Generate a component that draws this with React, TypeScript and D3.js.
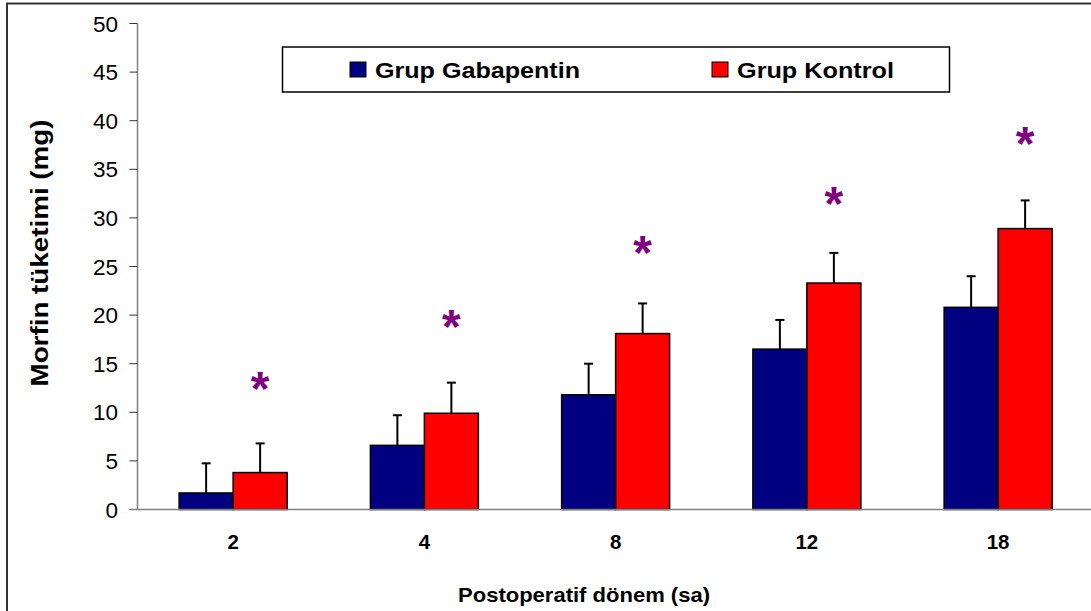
import React from "react";
import * as d3 from "d3";

// Postoperative morphine consumption by period
const periods = ["2", "4", "8", "12", "18"];
const seriesNames = ["Grup Gabapentin", "Grup Kontrol"];
const gabapentinMean = [1.7, 6.6, 11.8, 16.5, 20.8];
const gabapentinSd = [3.05, 3.1, 3.2, 3.0, 3.2];
const kontrolMean = [3.8, 9.9, 18.1, 23.3, 28.9];
const kontrolSd = [3.0, 3.15, 3.1, 3.1, 2.9];
const significance = [13.1, 19.5, 27.1, 32.2, 38.3];
const yTicks = [0, 5, 10, 15, 20, 25, 30, 35, 40, 45, 50];

const W = 1091;
const H = 611;
const FONT = "'Liberation Sans', Arial, sans-serif";
const colors = ["#000080", "#FF0000"];

export default function App() {
  const x0 = 137.5;
  const x1 = x0 + 5 * 191.25;
  const yTop = 23.5;
  const yBottom = 509.5;

  const x = d3.scaleBand().domain(periods).range([x0, x1]).paddingInner(0).paddingOuter(0);
  const inner = d3.scaleBand().domain(seriesNames).range([0, 108]);
  const y = d3.scaleLinear().domain([0, 50]).range([yBottom, yTop]);

  const groupOffset = (x.bandwidth() - 108) / 2;
  const series = [
    { name: seriesNames[0], mean: gabapentinMean, sd: gabapentinSd, color: colors[0], lx: 350, tl: 205 },
    { name: seriesNames[1], mean: kontrolMean, sd: kontrolSd, color: colors[1], lx: 712, tl: 157 },
  ];

  return (
    <svg
      width={W}
      height={H}
      style={{ position: "absolute", left: 0, top: 0, display: "block", background: "#fff" }}
      fontFamily={FONT}
    >
      {/* outer chart frame */}
      <rect x={7} y={3.5} width={1110} height={640} fill="none" stroke="#333" strokeWidth={2} />

      {/* y axis */}
      <line x1={x0} x2={x0} y1={yTop} y2={yBottom} stroke="#808080" strokeWidth={1.5} />
      {yTicks.map((t) => (
        <g key={t}>
          <line x1={x0 - 8} x2={x0} y1={y(t)} y2={y(t)} stroke="#333" strokeWidth={1} />
          <text x={118} y={y(t) + 8} textAnchor="end" fontSize={22.5} fill="#000">
            {t}
          </text>
        </g>
      ))}

      {/* bars with error bars */}
      {series.map((s, si) =>
        periods.map((p, i) => {
          const bx = (x(p) as number) + groupOffset + (inner(s.name) as number);
          const bw = inner.bandwidth();
          const cx = bx + bw / 2;
          const top = y(s.mean[i]);
          const errTop = y(s.mean[i] + s.sd[i]);
          return (
            <g key={`${si}-${p}`}>
              <line x1={cx} x2={cx} y1={top} y2={errTop} stroke="#000" strokeWidth={2} />
              <line x1={cx - 4.5} x2={cx + 4.5} y1={errTop} y2={errTop} stroke="#000" strokeWidth={2} />
              <rect x={bx} y={top} width={bw} height={yBottom - top} fill={s.color} stroke="#000" strokeWidth={1.5} />
            </g>
          );
        })
      )}

      {/* x axis */}
      <line x1={x0 - 8} x2={W + 10} y1={yBottom} y2={yBottom} stroke="#808080" strokeWidth={1.5} />
      {periods.map((p) => (
        <text
          key={p}
          x={(x(p) as number) + x.bandwidth() / 2}
          y={549}
          textAnchor="middle"
          fontSize={20.5}
          fontWeight="bold"
          fill="#000"
        >
          {p}
        </text>
      ))}

      {/* significance markers above the control bars */}
      {significance.map((v, i) => {
        const cx = (x(periods[i]) as number) + groupOffset + (inner(seriesNames[1]) as number) + inner.bandwidth() / 2;
        return (
          <text
            key={i}
            x={cx}
            y={y(v) + 23}
            textAnchor="middle"
            fontSize={48}
            fontWeight="bold"
            fill="#800080"
          >
            *
          </text>
        );
      })}

      {/* axis titles */}
      <text
        transform={`translate(48,253) rotate(-90)`}
        textAnchor="middle"
        fontSize={23}
        fontWeight="bold"
        fill="#000"
        textLength={267}
        lengthAdjust="spacingAndGlyphs"
      >
        Morfin tüketimi (mg)
      </text>
      <text
        x={584}
        y={602}
        textAnchor="middle"
        fontSize={21}
        fontWeight="bold"
        fill="#000"
        textLength={252}
        lengthAdjust="spacingAndGlyphs"
      >
        Postoperatif dönem (sa)
      </text>

      {/* legend */}
      <rect x={282.5} y={47} width={667} height={45} fill="#fff" stroke="#000" strokeWidth={1.5} />
      {series.map((s) => (
        <g key={s.name}>
          <rect x={s.lx} y={62} width={16} height={15} fill={s.color} stroke="#000" strokeWidth={1} />
          <text
            x={s.lx + 25}
            y={78}
            fontSize={22.5}
            fontWeight="bold"
            fill="#000"
            textLength={s.tl}
            lengthAdjust="spacingAndGlyphs"
          >
            {s.name}
          </text>
        </g>
      ))}
    </svg>
  );
}
